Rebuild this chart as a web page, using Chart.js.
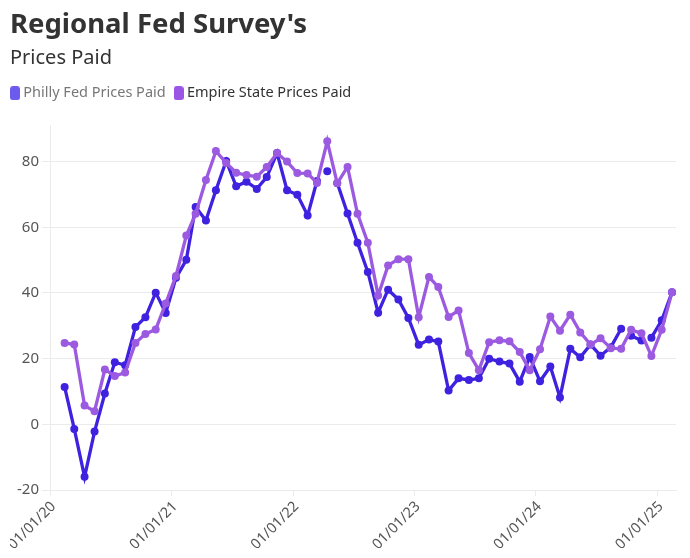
<!DOCTYPE html>
<html><head><meta charset="utf-8">
<style>html,body{margin:0;padding:0;background:#fff}canvas{display:block}</style>
<script src="https://cdn.jsdelivr.net/npm/chart.js@4/dist/chart.umd.min.js"></script>
</head><body><canvas id="c" width="690" height="558" style="width:690px;height:558px"></canvas>
<script>
const dates=["2020-02-14","2020-03-14","2020-04-14","2020-05-14","2020-06-14","2020-07-14","2020-08-14","2020-09-14","2020-10-14","2020-11-14","2020-12-14",
"2021-01-14","2021-02-14","2021-03-14","2021-04-14","2021-05-14","2021-06-14","2021-07-14","2021-08-14","2021-09-14","2021-10-14","2021-11-14","2021-12-14",
"2022-01-14","2022-02-14","2022-03-14","2022-04-14","2022-05-14","2022-06-14","2022-07-14","2022-08-14","2022-09-14","2022-10-14","2022-11-14","2022-12-14",
"2023-01-14","2023-02-14","2023-03-14","2023-04-14","2023-05-14","2023-06-14","2023-07-14","2023-08-14","2023-09-14","2023-10-14","2023-11-14","2023-12-14",
"2024-01-14","2024-02-14","2024-03-14","2024-04-14","2024-05-14","2024-06-14","2024-07-14","2024-08-14","2024-09-14","2024-10-14","2024-11-14","2024-12-14",
"2025-01-14","2025-02-14"];
const philly=[11.4,-1.4,-16,-2.2,9.4,18.9,18,29.6,32.6,40.1,33.9,
44.6,50.1,66.2,62.1,71.3,80.2,72.5,73.9,71.7,75.3,82.6,71.3,
69.9,63.6,74.1,77.1,73.5,64.2,55.3,46.4,34,41,38,32.4,
24.2,25.8,25.2,10.3,14,13.5,14,20,19.1,18.5,13,20.5,
13.1,17.6,8.2,23,20.4,24.3,20.9,23.5,29.1,27,25.5,26.4,
31.7,40.2];
const empire=[24.8,24.3,5.7,4,16.7,14.7,15.8,24.8,27.5,28.9,36.8,
45.2,57.5,64.1,74.4,83.2,79.6,76.6,75.9,75.4,78.4,82.6,80,
76.5,76.4,73.5,86.2,73.4,78.4,64.1,55.3,39.2,48.4,50.3,50.3,
32.6,44.9,41.8,32.7,34.7,21.7,16.5,25,25.6,25.3,22,16.5,
22.9,32.8,28.5,33.4,28,24.3,26.2,23.2,23,28.8,27.7,20.8,
28.8,40.2];
const phillyHiddenSegments=[25,26,55,57];
const tickDates=["2020-01-01","2021-01-01","2022-01-01","2023-01-01","2024-01-01","2025-01-01"];
const tickLabels=["01/01/20","01/01/21","01/01/22","01/01/23","01/01/24","01/01/25"];
const seriesNames=["Philly Fed Prices Paid","Empire State Prices Paid"];
const titleText="Regional Fed Survey's", subtitleText="Prices Paid";
const ms=s=>Date.parse(s+"T00:00:00Z");
const toPts=v=>v.map((y,i)=>({x:ms(dates[i]),y}));
const family="'Noto Sans'";
function swatch(color){
 const c=document.createElement('canvas');c.width=10;c.height=14;
 const g=c.getContext('2d');g.fillStyle=color;g.beginPath();g.roundRect(0,0,10,14,3);g.fill();return c;
}
const layoutTweak={id:'layoutTweak',
 beforeInit(chart){const f=chart.legend.fit;chart.legend.fit=function(){f.call(this);this.height+=15;};},
 afterLayout(chart){chart.legend.left-=8;},
 afterDraw(chart){chart.ctx.clearRect(0,chart.chartArea.bottom+1,10,chart.height-chart.chartArea.bottom);}
};
new Chart(document.getElementById('c'),{
 type:'line',
 plugins:[layoutTweak],
 data:{datasets:[
  {label:seriesNames[0],data:toPts(philly),borderColor:'#3f22e0',backgroundColor:'#3f22e0',borderWidth:3.3,pointRadius:4,pointBorderWidth:0,pointHoverRadius:4,tension:0,order:2,
   segment:{borderColor:c=>phillyHiddenSegments.includes(c.p0DataIndex)?'transparent':undefined}},
  {label:seriesNames[1],data:toPts(empire),borderColor:'#9c5ae1',backgroundColor:'#9c5ae1',borderWidth:3.3,pointRadius:4,pointBorderWidth:0,pointHoverRadius:4,tension:0,order:1}
 ]},
 options:{
  responsive:false,animation:false,
  layout:{padding:{left:10,right:14,top:9,bottom:0}},
  plugins:{
   title:{display:true,text:titleText,align:'start',color:'#333',font:{family,size:27.5,weight:'700'},padding:{top:0,bottom:4}},
   subtitle:{display:true,text:subtitleText,align:'start',color:'#333',font:{family,size:20,weight:'400'},padding:{top:0,bottom:4}},
   legend:{display:true,position:'top',align:'start',
    labels:{usePointStyle:true,pointStyleWidth:2,boxHeight:14,padding:12,font:{family,size:14.5},color:'#333',
     generateLabels:()=>[
      {text:seriesNames[0],pointStyle:swatch('#6d5bf0'),fontColor:'#777',datasetIndex:0,lineWidth:0},
      {text:seriesNames[1],pointStyle:swatch('#9b55e5'),fontColor:'#333',datasetIndex:1,lineWidth:0}
     ]}},
   tooltip:{enabled:false}
  },
  scales:{
   x:{type:'linear',min:ms("2020-01-01"),max:ms("2025-02-26"),
    afterBuildTicks:s=>{s.ticks=tickDates.map(d=>({value:ms(d)}));},
    afterFit:s=>{s.height=68;s.paddingLeft=0;s.paddingRight=0;},
    grid:{display:true,drawOnChartArea:false,drawTicks:true,tickLength:6,color:'#ebebeb'},
    border:{color:'#ebebeb'},
    ticks:{autoSkip:false,maxRotation:45,minRotation:45,color:'#555',font:{family,size:14.5},padding:2,labelOffset:3.5,
     callback:function(v){const i=tickDates.findIndex(d=>ms(d)===v);return i<0?'':tickLabels[i];}}},
   y:{min:-20,max:91,
    afterBuildTicks:s=>{s.ticks=[-20,0,20,40,60,80].map(value=>({value}));},
    afterFit:s=>{s.width=40;},
    grid:{color:'#ebebeb',tickLength:8,tickColor:'#ebebeb'},
    border:{color:'#ebebeb'},
    ticks:{color:'#555',font:{family,size:15},padding:3}}
  }
 }
});
</script></body></html>
